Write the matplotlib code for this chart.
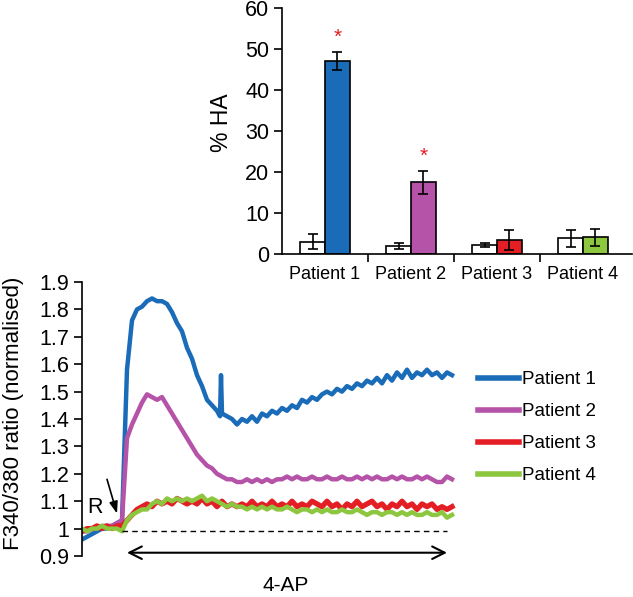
import numpy as np
import matplotlib.pyplot as plt

plt.rcParams['font.family'] = ['Liberation Sans', 'DejaVu Sans']

# ---- bar chart data (% HA) ----
patients = ['Patient 1', 'Patient 2', 'Patient 3', 'Patient 4']
ctrl_ha = [3.0, 2.0, 2.2, 3.8]
ctrl_err = [1.8, 0.8, 0.4, 2.0]
ap_ha = [47.0, 17.5, 3.4, 4.1]
ap_err = [2.2, 2.8, 2.5, 2.1]
bar_colors = ['#1b6cb8', '#b553a8', '#e31e24', '#8dc63f']
signif = [True, True, False, False]

# ---- traces (F340/380 ratio, normalised) ----
t = np.arange(0, 371, 5)
t_p1 = [0, 5, 10, 15, 20, 25, 30, 35, 40, 45, 50, 55, 60, 65, 70, 75, 80, 85,
        90, 95, 100, 105, 110, 115, 120, 125, 130, 135, 138, 139, 140, 145,
        150, 155, 160, 165, 170, 175, 180, 185, 190, 195, 200, 205, 210, 215,
        220, 225, 230, 235, 240, 245, 250, 255, 260, 265, 270, 275, 280, 285,
        290, 295, 300, 305, 310, 315, 320, 325, 330, 335, 340, 345, 350, 355,
        360, 365, 370]
p1 = [0.96, 0.97, 0.98, 0.99, 1.00, 1.00, 1.01, 1.02, 1.03, 1.58, 1.76, 1.80,
      1.81, 1.83, 1.84, 1.83, 1.83, 1.82, 1.79, 1.75, 1.72, 1.66, 1.62, 1.56,
      1.52, 1.47, 1.45, 1.43, 1.41, 1.56, 1.42, 1.41, 1.40, 1.38, 1.40, 1.39,
      1.41, 1.39, 1.42, 1.41, 1.43, 1.42, 1.44, 1.43, 1.45, 1.44, 1.47, 1.46,
      1.48, 1.47, 1.49, 1.50, 1.49, 1.51, 1.50, 1.52, 1.51, 1.53, 1.52, 1.54,
      1.53, 1.55, 1.53, 1.56, 1.54, 1.57, 1.55, 1.58, 1.55, 1.57, 1.56, 1.58,
      1.56, 1.57, 1.55, 1.57, 1.56]
p2 = [0.99, 0.99, 1.00, 1.00, 1.01, 1.01, 1.01, 1.02, 1.03, 1.33, 1.38, 1.42,
      1.46, 1.49, 1.48, 1.47, 1.48, 1.45, 1.42, 1.39, 1.36, 1.33, 1.30, 1.27,
      1.25, 1.23, 1.22, 1.20, 1.19, 1.18, 1.18, 1.17, 1.17, 1.18, 1.17, 1.18,
      1.17, 1.18, 1.17, 1.18, 1.18, 1.19, 1.18, 1.19, 1.18, 1.18, 1.19, 1.18,
      1.18, 1.19, 1.18, 1.18, 1.19, 1.18, 1.18, 1.19, 1.18, 1.19, 1.18, 1.19,
      1.18, 1.18, 1.19, 1.18, 1.19, 1.18, 1.18, 1.19, 1.18, 1.19, 1.18, 1.17,
      1.17, 1.19, 1.18]
p3 = [0.99, 1.00, 1.00, 1.01, 1.00, 1.01, 1.00, 1.01, 1.01, 1.03, 1.05, 1.07,
      1.08, 1.09, 1.08, 1.10, 1.09, 1.10, 1.09, 1.11, 1.10, 1.09, 1.10, 1.09,
      1.11, 1.09, 1.10, 1.08, 1.10, 1.08, 1.09, 1.08, 1.09, 1.08, 1.10, 1.08,
      1.09, 1.08, 1.10, 1.08, 1.09, 1.08, 1.10, 1.08, 1.09, 1.08, 1.10, 1.09,
      1.08, 1.10, 1.08, 1.09, 1.07, 1.09, 1.08, 1.10, 1.08, 1.09, 1.10, 1.08,
      1.09, 1.07, 1.09, 1.08, 1.10, 1.08, 1.09, 1.07, 1.09, 1.08, 1.09, 1.07,
      1.08, 1.07, 1.08]
p4 = [1.00, 0.99, 1.00, 1.00, 1.01, 1.00, 1.00, 1.00, 0.99, 1.03, 1.05, 1.06,
      1.07, 1.07, 1.09, 1.10, 1.09, 1.11, 1.10, 1.11, 1.10, 1.11, 1.10, 1.11,
      1.12, 1.10, 1.11, 1.10, 1.09, 1.08, 1.09, 1.08, 1.08, 1.07, 1.08, 1.07,
      1.08, 1.07, 1.08, 1.07, 1.07, 1.08, 1.07, 1.06, 1.07, 1.07, 1.06, 1.07,
      1.06, 1.07, 1.06, 1.06, 1.07, 1.06, 1.06, 1.07, 1.06, 1.05, 1.06, 1.06,
      1.05, 1.06, 1.06, 1.05, 1.06, 1.05, 1.06, 1.05, 1.05, 1.06, 1.05, 1.05,
      1.06, 1.04, 1.05]
trace_colors = ['#1b6cb8', '#b553a8', '#e31e24', '#8dc63f']

W, H = 633, 597
fig = plt.figure(figsize=(W / 100, H / 100), dpi=100)

# ---------------- bar chart ----------------
axb = fig.add_axes([282 / W, 1 - 254 / H, 350 / W, 246 / H])
x = np.arange(len(patients))
bw = 0.29
axb.bar(x - bw / 2, ctrl_ha, bw, color='white', edgecolor='black', lw=1.2,
        yerr=ctrl_err, capsize=3.5, error_kw=dict(lw=1.2, capthick=1.2))
axb.bar(x + bw / 2, ap_ha, bw, color=bar_colors, edgecolor='black', lw=1.2,
        yerr=ap_err, capsize=3.5, error_kw=dict(lw=1.2, capthick=1.2))
for i, s in enumerate(signif):
    if s:
        axb.text(x[i] + bw / 2, ap_ha[i] + ap_err[i] + 2.3, '*', color='#e31e24',
                 ha='center', va='baseline', fontsize=15)
axb.set_xlim(-0.5, 3.57)
axb.set_ylim(0, 60)
axb.set_yticks(range(0, 61, 10))
axb.set_xticks([0.5, 1.5, 2.5])
axb.set_xticklabels([])
axb.set_xticks(x, minor=True)
axb.set_xticklabels(patients, minor=True, fontsize=13)
axb.tick_params(axis='x', which='minor', length=0, pad=9)
axb.tick_params(axis='x', which='major', direction='out', length=6, width=1.2)
axb.tick_params(axis='y', direction='out', length=6, width=1.2, labelsize=15.5, pad=3)
for side in ['top', 'right']:
    axb.spines[side].set_visible(False)
for side in ['left', 'bottom']:
    axb.spines[side].set_linewidth(1.2)
fig.text(222 / W, 1 - 123 / H, '% HA', rotation=90, ha='center', va='center',
         fontsize=16.5)

# ---------------- traces ----------------
axl = fig.add_axes([82 / W, 1 - 556 / H, 378 / W, 274 / H])
axl.plot(t_p1, p1, color=trace_colors[0], lw=3.2, label='Patient 1')
axl.plot(t, p2, color=trace_colors[1], lw=3.2, label='Patient 2')
axl.plot(t, p3, color=trace_colors[2], lw=3.8, label='Patient 3')
axl.plot(t, p4, color=trace_colors[3], lw=3.2, label='Patient 4')
axl.plot([40, 365], [0.993, 0.993], color='black', lw=1, dashes=(4, 3))
axl.annotate('', xy=(45, 0.912), xytext=(365, 0.912),
             arrowprops=dict(arrowstyle='<->,head_length=0.9,head_width=0.45',
                             color='black', lw=1.5, shrinkA=0, shrinkB=0),
             annotation_clip=False)
axl.text(204, 0.794, '4-AP', ha='center', va='center', fontsize=15)
axl.text(13, 1.077, 'R', ha='center', va='center', fontsize=15.5)
axl.annotate('', xy=(35, 1.055), xytext=(25, 1.18),
             arrowprops=dict(arrowstyle='-|>,head_length=0.7,head_width=0.25',
                             color='black', lw=1.2, shrinkA=0, shrinkB=0))
axl.set_xlim(0, 378)
axl.set_ylim(0.9, 1.9)
axl.set_yticks([0.9, 1.0, 1.1, 1.2, 1.3, 1.4, 1.5, 1.6, 1.7, 1.8, 1.9])
axl.set_yticklabels(['0.9', '1', '1.1', '1.2', '1.3', '1.4', '1.5', '1.6',
                     '1.7', '1.8', '1.9'])
axl.set_xticks([])
axl.tick_params(axis='y', direction='out', length=6, width=1.2, labelsize=15.5, pad=3)
for side in ['top', 'right', 'bottom']:
    axl.spines[side].set_visible(False)
axl.spines['left'].set_linewidth(1.2)
fig.text(14 / W, 1 - 413 / H, 'F340/380 ratio (normalised)', rotation=90,
         ha='center', va='center', fontsize=16)

axl.legend(loc='upper left', bbox_to_anchor=(478 / W, 1 - 371 / H),
           bbox_transform=fig.transFigure, frameon=False, fontsize=13.5,
           handlelength=2.2, handletextpad=0.15, labelspacing=0.8,
           borderpad=0, borderaxespad=0)
for line in axl.get_legend().get_lines():
    line.set_linewidth(4)

fig.savefig('out.png', dpi=100)
